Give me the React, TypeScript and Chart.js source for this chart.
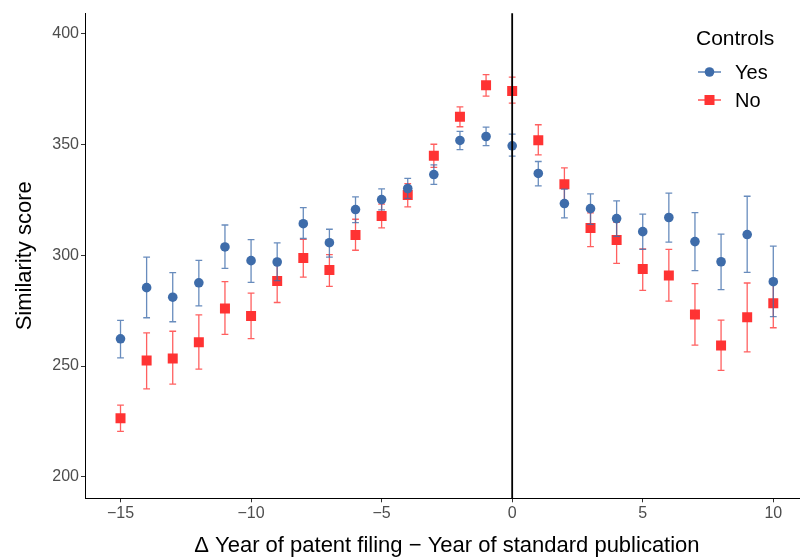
import React, { useEffect, useRef } from "react";
import { Chart, registerables } from "chart.js";

Chart.register(...registerables);

// ---- data ----
const years = [-15, -14, -13, -12, -11, -10, -9, -8, -7, -6, -5, -4, -3, -2, -1, 0, 1, 2, 3, 4, 5, 6, 7, 8, 9, 10];

const yesMean = [262.3, 285.4, 281.1, 287.6, 303.8, 297.6, 297.0, 314.3, 305.7, 320.7, 325.2, 330.2, 336.5, 351.9, 353.7, 349.5, 337.0, 323.4, 321.1, 316.6, 310.7, 317.1, 306.2, 297.1, 309.4, 288.1];
const yesLow = [253.7, 271.8, 270.0, 277.2, 294.1, 287.8, 288.6, 307.6, 299.2, 314.8, 320.5, 325.7, 332.1, 347.8, 349.6, 344.8, 331.4, 316.9, 314.0, 308.6, 302.7, 306.0, 293.1, 284.5, 292.3, 272.3];
const yesHigh = [270.6, 299.2, 292.2, 297.7, 313.7, 307.1, 305.6, 321.6, 311.8, 326.4, 330.0, 334.8, 340.9, 356.0, 357.9, 354.8, 342.4, 329.9, 327.8, 324.6, 318.6, 328.1, 319.3, 309.6, 326.7, 304.2];

const noMean = [226.4, 252.5, 253.4, 260.7, 276.0, 272.6, 288.4, 298.8, 293.4, 309.2, 317.8, 327.3, 345.0, 362.6, 376.9, 374.3, 352.0, 332.1, 312.4, 306.9, 293.8, 290.9, 273.3, 259.3, 272.0, 278.4];
const noLow = [220.5, 239.7, 241.8, 248.6, 264.3, 262.4, 278.7, 290.2, 286.0, 302.3, 312.4, 321.9, 339.7, 358.1, 371.9, 368.8, 345.4, 324.6, 303.9, 296.4, 284.2, 279.3, 259.4, 248.0, 256.4, 267.3];
const noHigh = [232.3, 265.0, 265.7, 273.1, 288.1, 282.9, 297.1, 307.2, 300.3, 316.3, 323.1, 332.4, 350.2, 367.1, 381.6, 380.5, 359.0, 339.5, 319.2, 314.9, 302.9, 302.7, 287.2, 270.7, 287.5, 289.2];

const xTickValues = [-15, -10, -5, 0, 5, 10];
const yTickValues = [200, 250, 300, 350, 400];

const seriesLabels = ["Yes", "No"];
const legendTitle = "Controls";
const xTitle = "\u0394 Year of patent filing \u2212 Year of standard publication";
const yTitle = "Similarity score";

const BLUE = "#3E6CAA";
const RED = "#FF3333";
const BLUE_ERR = "rgba(62,108,170,0.78)";
const RED_ERR = "rgba(255,51,51,0.78)";
const FONT = '"Liberation Sans", Arial, Helvetica, sans-serif';

const errLow = [yesLow, noLow];
const errHigh = [yesHigh, noHigh];
const errColors = [BLUE_ERR, RED_ERR];

const fmt = (v: number) => (v < 0 ? "\u2212" + Math.abs(v) : String(v));

export default function App() {
  const ref = useRef<HTMLCanvasElement>(null);

  useEffect(() => {
    const canvas = ref.current;
    if (!canvas) return;

    const errorBarPlugin = {
      id: "errorBars",
      beforeDatasetDraw(chart: any, args: any) {
        const i = args.index;
        const { ctx, scales } = chart;
        const xs = scales.x;
        const ys = scales.y;
        ctx.save();
        ctx.strokeStyle = errColors[i];
        ctx.lineWidth = 1.3;
        years.forEach((yr, k) => {
          const px = xs.getPixelForValue(yr);
          const pl = xs.getPixelForValue(yr - 0.13);
          const pr = xs.getPixelForValue(yr + 0.13);
          const lo = ys.getPixelForValue(errLow[i][k]);
          const hi = ys.getPixelForValue(errHigh[i][k]);
          ctx.beginPath();
          ctx.moveTo(px, lo);
          ctx.lineTo(px, hi);
          ctx.moveTo(pl, lo);
          ctx.lineTo(pr, lo);
          ctx.moveTo(pl, hi);
          ctx.lineTo(pr, hi);
          ctx.stroke();
        });
        ctx.restore();
      },
      afterDatasetsDraw(chart: any) {
        const { ctx, scales, chartArea } = chart;
        const px = scales.x.getPixelForValue(0);
        ctx.save();
        ctx.strokeStyle = "#000";
        ctx.lineWidth = 1.8;
        ctx.beginPath();
        ctx.moveTo(px, chartArea.top);
        ctx.lineTo(px, chartArea.bottom);
        ctx.stroke();
        ctx.restore();
      },
      afterDraw(chart: any) {
        const { ctx } = chart;
        ctx.save();
        ctx.textBaseline = "middle";
        ctx.textAlign = "left";
        ctx.fillStyle = "#000";
        ctx.font = `21px ${FONT}`;
        ctx.fillText(legendTitle, 696, 39);
        ctx.font = `20px ${FONT}`;
        const rows = [
          { y: 72, color: BLUE, shape: "circle", label: seriesLabels[0] },
          { y: 100, color: RED, shape: "rect", label: seriesLabels[1] },
        ];
        rows.forEach((r) => {
          ctx.strokeStyle = r.color;
          ctx.fillStyle = r.color;
          ctx.lineWidth = 1.3;
          ctx.beginPath();
          ctx.moveTo(698, r.y);
          ctx.lineTo(721, r.y);
          ctx.stroke();
          if (r.shape === "circle") {
            ctx.beginPath();
            ctx.arc(709.5, r.y, 4.8, 0, Math.PI * 2);
            ctx.fill();
          } else {
            ctx.fillRect(704.5, r.y - 5, 10, 10);
          }
          ctx.fillStyle = "#000";
          ctx.fillText(r.label, 735, r.y + 1);
        });
        ctx.restore();
      },
    };

    const chart = new Chart(canvas, {
      type: "scatter",
      data: {
        datasets: [
          {
            label: seriesLabels[0],
            data: years.map((x, k) => ({ x, y: yesMean[k] })),
            pointStyle: "circle",
            pointRadius: 4.8,
            pointBackgroundColor: BLUE,
            pointBorderColor: BLUE,
            pointBorderWidth: 0,
            showLine: false,
          },
          {
            label: seriesLabels[1],
            data: years.map((x, k) => ({ x, y: noMean[k] })),
            pointStyle: "rect",
            pointRadius: 7.07,
            pointBackgroundColor: RED,
            pointBorderColor: RED,
            pointBorderWidth: 0,
            showLine: false,
          },
        ],
      },
      options: {
        responsive: false,
        animation: false,
        events: [],
        layout: { autoPadding: false, padding: { top: 13.3, right: 1.2, bottom: 0, left: 0 } },
        plugins: {
          legend: { display: false },
          tooltip: { enabled: false },
        },
        scales: {
          x: {
            type: "linear",
            position: "bottom",
            min: -16.36,
            max: 11.36,
            afterBuildTicks: (scale: any) => {
              scale.ticks = xTickValues.map((v) => ({ value: v }));
            },
            afterFit: (scale: any) => {
              scale.height = 60.7;
              scale.paddingLeft = 0;
              scale.paddingRight = 0;
            },
            grid: { display: true, drawOnChartArea: false, drawTicks: true, tickLength: 4, color: "#333333", lineWidth: 1 },
            border: { display: true, color: "#000000", width: 1 },
            ticks: {
              callback: (v: any) => fmt(Number(v)),
              color: "#4D4D4D",
              padding: 2,
              font: { family: FONT, size: 16 },
              maxRotation: 0,
              autoSkip: false,
            },
            title: {
              display: true,
              text: xTitle,
              color: "#000",
              font: { family: FONT, size: 22 },
              padding: { top: 0, bottom: 0 },
            },
          },
          y: {
            type: "linear",
            position: "left",
            min: 190.24,
            max: 409.35,
            afterBuildTicks: (scale: any) => {
              scale.ticks = yTickValues.map((v) => ({ value: v }));
            },
            afterFit: (scale: any) => {
              scale.width = 85;
              scale.paddingTop = 0;
              scale.paddingBottom = 0;
            },
            grid: { display: true, drawOnChartArea: false, drawTicks: true, tickLength: 4, color: "#333333", lineWidth: 1 },
            border: { display: true, color: "#000000", width: 1 },
            ticks: {
              callback: (v: any) => String(v),
              color: "#4D4D4D",
              padding: 2,
              font: { family: FONT, size: 16 },
              autoSkip: false,
            },
            title: {
              display: true,
              text: yTitle,
              color: "#000",
              font: { family: FONT, size: 22 },
              padding: { top: 11.8, bottom: 0 },
            },
          },
        },
      },
      plugins: [errorBarPlugin],
    } as any);

    return () => chart.destroy();
  }, []);

  return (
    <div
      style={{
        position: "fixed",
        left: 0,
        top: 0,
        width: 800,
        height: 559,
        overflow: "hidden",
        background: "#ffffff",
      }}
    >
      <canvas ref={ref} width={810} height={559} style={{ display: "block" }} />
    </div>
  );
}
